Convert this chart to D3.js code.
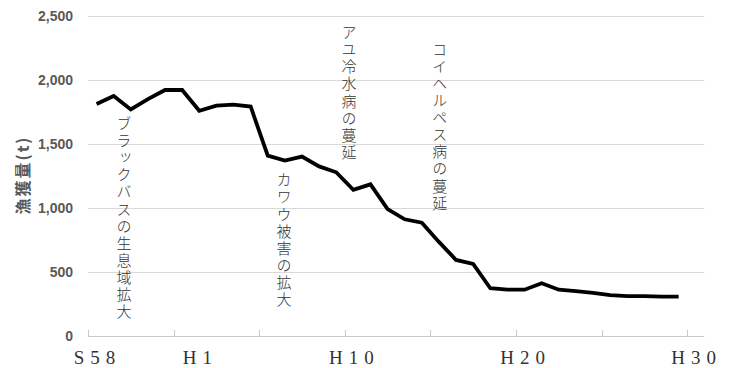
<!DOCTYPE html>
<html>
<head>
<meta charset="utf-8">
<script src="https://cdn.jsdelivr.net/npm/d3@7"></script>
<style>
  html, body { margin: 0; padding: 0; background: #fff; }
  svg { display: block; }
</style>
</head>
<body>
<svg id="chart" width="729" height="368"></svg>
<script>
// Categories: fiscal years S58 (1983) .. H30 (2018)
const categories = ["S58","S59","S60","S61","S62","S63","H1","H2","H3","H4","H5","H6","H7","H8","H9","H10",
  "H11","H12","H13","H14","H15","H16","H17","H18","H19","H20","H21","H22","H23","H24","H25","H26","H27","H28","H29","H30"];
// Catch (t), S58 .. H29
const catchValues = [1812,1875,1770,1850,1922,1922,1760,1800,1808,1793,1409,1370,1402,1325,1279,1142,
  1185,992,912,885,735,594,563,373,362,362,412,362,350,337,320,312,312,308,307];
const xTickLabels = ["S58","H1","H10","H20","H30"];
const yTicks = [0,500,1000,1500,2000,2500];
const yTitle = "漁獲量(t)";
const annotations = [
  {text: "ブラックバスの生息域拡大", pos: 2.1, value: 1720},
  {text: "カワウ被害の拡大", pos: 11.45, value: 1280},
  {text: "アユ冷水病の蔓延", pos: 15.25, value: 2430},
  {text: "コイヘルペス病の蔓延", pos: 20.55, value: 2300}
];

const svg = d3.select("#chart");
const mLeft = 88, mRight = 704.3, mTop = 16, mBottom = 336;

const x = d3.scaleBand().domain(categories).range([mLeft, mRight]).padding(0);
const xPos = d3.scaleLinear().domain([0, categories.length]).range([mLeft, mRight]);
const y = d3.scaleLinear().domain([0, 2500]).range([mBottom, mTop]);
const cx = c => x(c) + x.bandwidth() / 2;

// gridlines
svg.append("g").selectAll("line").data(yTicks.filter(d => d > 0)).join("line")
  .attr("x1", mLeft).attr("x2", mRight)
  .attr("y1", d => y(d) + 0.5).attr("y2", d => y(d) + 0.5)
  .attr("stroke", "#d9d9d9").attr("stroke-width", 1);

// x axis line + ticks (every 5 categories, between categories)
const axisG = svg.append("g");
axisG.append("line").attr("x1", mLeft).attr("x2", mRight)
  .attr("y1", mBottom + 0.5).attr("y2", mBottom + 0.5)
  .attr("stroke", "#c8c8c8").attr("stroke-width", 1);
const tickCats = categories.filter((c, i) => i % 5 === 0);
axisG.selectAll("line.tick").data(tickCats).join("line").attr("class", "tick")
  .attr("x1", d => Math.round(x(d)) + 0.5).attr("x2", d => Math.round(x(d)) + 0.5)
  .attr("y1", mBottom - 6).attr("y2", mBottom)
  .attr("stroke", "#c8c8c8").attr("stroke-width", 1);

// y labels
svg.append("g").selectAll("text").data(yTicks).join("text")
  .attr("x", 73).attr("y", d => y(d))
  .attr("text-anchor", "end").attr("dominant-baseline", "central")
  .attr("font-family", "Liberation Sans, Arial, sans-serif")
  .attr("font-size", 14).attr("font-weight", "bold").attr("fill", "#595959")
  .text(d => d3.format(",")(d));

// y title
svg.append("text")
  .attr("transform", "translate(22,175) rotate(-90)")
  .attr("text-anchor", "middle").attr("dominant-baseline", "central")
  .attr("font-family", "Noto Sans CJK JP, sans-serif")
  .attr("font-size", 16).attr("font-weight", "bold").attr("fill", "#595959")
  .attr("letter-spacing", 2)
  .text(yTitle);

// x labels
svg.append("g").selectAll("text").data(xTickLabels).join("text")
  .attr("x", d => cx(d) + 1).attr("y", 364)
  .attr("text-anchor", "middle")
  .attr("font-family", "Liberation Serif, Times New Roman, serif")
  .attr("font-size", 19).attr("fill", "#333")
  .attr("letter-spacing", 6)
  .text(d => d);

// line
const line = d3.line().x((d, i) => cx(categories[i])).y(d => y(d));
svg.append("path").datum(catchValues)
  .attr("d", line).attr("fill", "none")
  .attr("stroke", "#000").attr("stroke-width", 3.8)
  .attr("stroke-linejoin", "miter").attr("stroke-linecap", "butt");

// annotations (vertical text)
svg.append("g").selectAll("text").data(annotations).join("text")
  .attr("x", d => xPos(d.pos)).attr("y", d => y(d.value))
  .attr("style", "writing-mode: vertical-rl; text-orientation: upright;")
  .attr("font-family", "Noto Sans CJK JP, sans-serif")
  .attr("font-size", 15).attr("font-weight", 300).attr("fill", "#333")
  .attr("letter-spacing", 2.1)
  .text(d => d.text);
</script>
</body>
</html>
